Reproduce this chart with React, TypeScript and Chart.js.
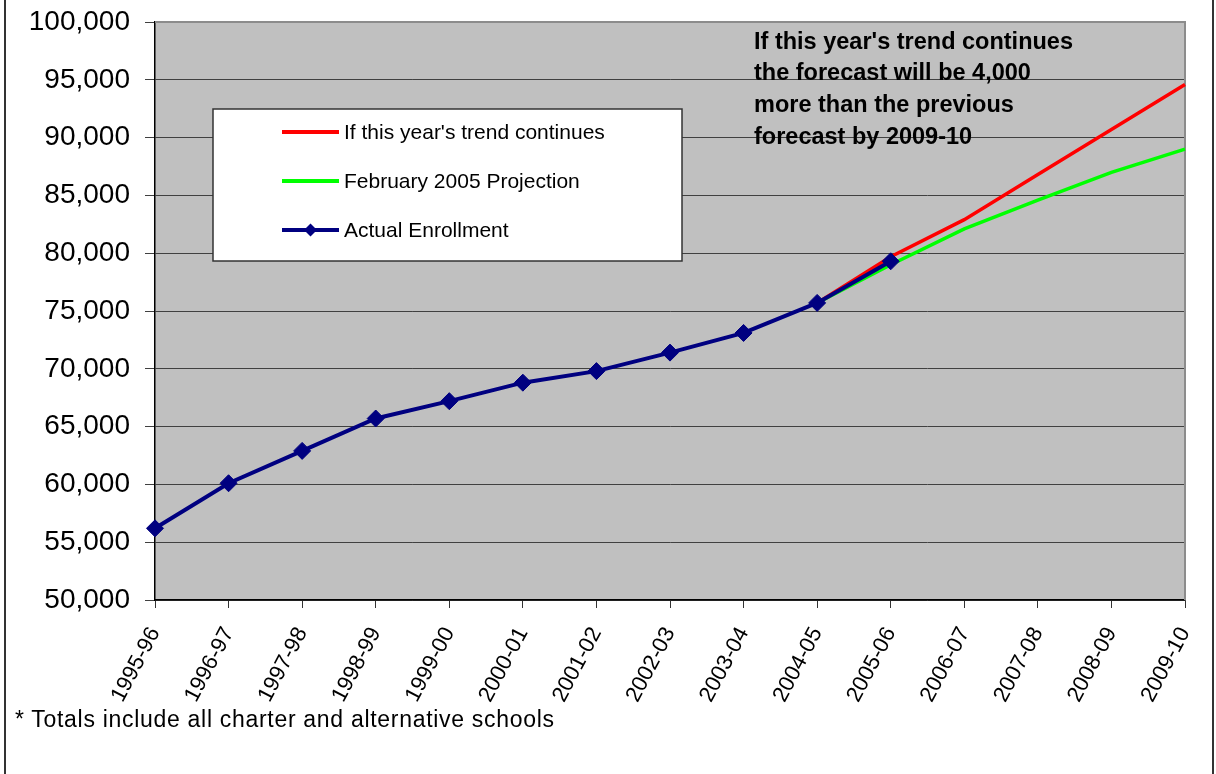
import React, { useEffect, useRef } from "react";
import { Chart, registerables } from "chart.js";

Chart.register(...registerables);

const categories = [
  "1995-96", "1996-97", "1997-98", "1998-99", "1999-00", "2000-01", "2001-02", "2002-03",
  "2003-04", "2004-05", "2005-06", "2006-07", "2007-08", "2008-09", "2009-10",
];

const actualEnrollment = [56200, 60100, 62900, 65700, 67200, 68800, 69800, 71400, 73100, 75700, 79300, null, null, null, null];
const trendContinues = [null, null, null, null, null, null, null, null, null, 75700, 79700, 82900, 86800, 90700, 94600];
const feb2005Projection = [null, null, null, null, null, null, null, null, null, 75700, 79000, 82100, 84600, 87000, 89000];

const yMin = 50000;
const yMax = 100000;
const yStep = 5000;

const annotationLines = [
  "If this year's trend continues",
  "the forecast will be 4,000",
  "more than the previous",
  "forecast by 2009-10",
];
const footnote = "* Totals include all charter and alternative schools";

const FONT = "Arial, 'Liberation Sans', sans-serif";

const plotBgPlugin = {
  id: "plotBg",
  beforeDraw(chart: any) {
    const { ctx, chartArea: a } = chart;
    ctx.save();
    ctx.fillStyle = "#C0C0C0";
    ctx.fillRect(a.left, a.top, a.right - a.left, a.bottom - a.top);
    ctx.restore();
  },
  beforeDatasetsDraw(chart: any) {
    const { ctx, chartArea: a } = chart;
    ctx.save();
    ctx.strokeStyle = "#8C8C8C";
    ctx.lineWidth = 2;
    ctx.beginPath();
    ctx.moveTo(a.left, a.top);
    ctx.lineTo(a.right, a.top);
    ctx.lineTo(a.right, a.bottom);
    ctx.stroke();
    ctx.restore();
  },
};

const boxLegendPlugin = {
  id: "boxLegend",
  afterDatasetsDraw(chart: any) {
    const { ctx, chartArea: a } = chart;
    const x0 = a.left + 58;
    const y0 = a.top + 87;
    const w = 469;
    const h = 152;
    ctx.save();
    ctx.fillStyle = "#FFFFFF";
    ctx.fillRect(x0, y0, w, h);
    ctx.strokeStyle = "#333333";
    ctx.lineWidth = 1.5;
    ctx.strokeRect(x0, y0, w, h);
    const ds = [...chart.data.datasets].reverse();
    ds.forEach((d: any, i: number) => {
      const cy = y0 + 23 + i * 49;
      const lx1 = x0 + 69;
      const lx2 = x0 + 126;
      ctx.strokeStyle = d.borderColor;
      ctx.lineWidth = 4;
      ctx.beginPath();
      ctx.moveTo(lx1, cy);
      ctx.lineTo(lx2, cy);
      ctx.stroke();
      if (d.pointRadius > 0) {
        const cx = (lx1 + lx2) / 2;
        const r = 6.5;
        ctx.fillStyle = d.pointBackgroundColor;
        ctx.beginPath();
        ctx.moveTo(cx, cy - r);
        ctx.lineTo(cx + r, cy);
        ctx.lineTo(cx, cy + r);
        ctx.lineTo(cx - r, cy);
        ctx.closePath();
        ctx.fill();
      }
      ctx.fillStyle = "#000000";
      ctx.font = `21px ${FONT}`;
      ctx.textAlign = "left";
      ctx.textBaseline = "middle";
      ctx.fillText(d.label, x0 + 131, cy + 1);
    });
    ctx.restore();
  },
};

export default function App() {
  const canvasRef = useRef<HTMLCanvasElement | null>(null);

  useEffect(() => {
    if (!canvasRef.current) return;
    const chart = new Chart(canvasRef.current, {
      type: "line",
      data: {
        labels: categories,
        datasets: [
          {
            label: "Actual Enrollment",
            data: actualEnrollment,
            borderColor: "#000080",
            backgroundColor: "#000080",
            pointBackgroundColor: "#000080",
            pointBorderColor: "#000080",
            pointStyle: "rectRot",
            pointRadius: 8.5,
            pointBorderWidth: 1,
            borderWidth: 4,
            tension: 0,
          },
          {
            label: "February 2005 Projection",
            data: feb2005Projection,
            borderColor: "#00FF00",
            backgroundColor: "#00FF00",
            pointRadius: 0,
            borderWidth: 3.5,
            tension: 0,
          },
          {
            label: "If this year's trend continues",
            data: trendContinues,
            borderColor: "#FF0000",
            backgroundColor: "#FF0000",
            pointRadius: 0,
            borderWidth: 3.5,
            tension: 0,
          },
        ],
      },
      options: {
        animation: false,
        responsive: true,
        maintainAspectRatio: false,
        layout: { padding: { left: 0, top: 22, right: 31, bottom: 0 } },
        plugins: {
          legend: { display: false },
          tooltip: { enabled: false },
        },
        scales: {
          x: {
            offset: false,
            grid: {
              drawOnChartArea: false,
              drawTicks: true,
              tickLength: 8,
              color: "#333333",
            },
            border: { color: "#000000", width: 1.5 },
            ticks: {
              color: "#000000",
              font: { family: FONT, size: 22 },
              minRotation: 62,
              maxRotation: 62,
              padding: 15,
              autoSkip: false,
            },
            afterFit(scale: any) {
              scale.height = 174;
              scale.paddingLeft = 0;
              scale.paddingRight = 0;
            },
          },
          y: {
            min: yMin,
            max: yMax,
            grid: {
              color: "#404040",
              lineWidth: 1,
              tickLength: 10,
            },
            border: { color: "#000000", width: 1.5 },
            ticks: {
              stepSize: yStep,
              color: "#000000",
              font: { family: FONT, size: 28 },
              padding: 15,
              callback: (v: any) => Number(v).toLocaleString("en-US"),
            },
            afterFit(scale: any) {
              scale.width = 155;
              scale.paddingTop = 0;
              scale.paddingBottom = 0;
            },
          },
        },
      },
      plugins: [plotBgPlugin, boxLegendPlugin],
    });
    return () => chart.destroy();
  }, []);

  return (
    <div style={{ position: "fixed", left: 0, top: 0, width: 1216, height: 774, background: "#FFFFFF", fontFamily: FONT }}>
      <canvas ref={canvasRef} style={{ position: "absolute", left: 0, top: 0, width: 1216, height: 774 }} />
      <div style={{ position: "absolute", left: 4, top: 0, width: 2, height: 774, background: "#333333" }} />
      <div style={{ position: "absolute", left: 1212, top: 0, width: 2, height: 774, background: "#333333" }} />
      <div
        style={{
          position: "absolute",
          left: 754,
          top: 25.5,
          fontWeight: "bold",
          fontSize: 23.5,
          lineHeight: "31.7px",
          color: "#000000",
          whiteSpace: "nowrap",
        }}
      >
        {annotationLines.map((l, i) => (
          <div key={i}>{l}</div>
        ))}
      </div>
      <div
        style={{
          position: "absolute",
          left: 15,
          top: 704,
          fontSize: 23,
          letterSpacing: "0.7px",
          lineHeight: "30px",
          color: "#000000",
          whiteSpace: "nowrap",
        }}
      >
        {footnote}
      </div>
    </div>
  );
}
